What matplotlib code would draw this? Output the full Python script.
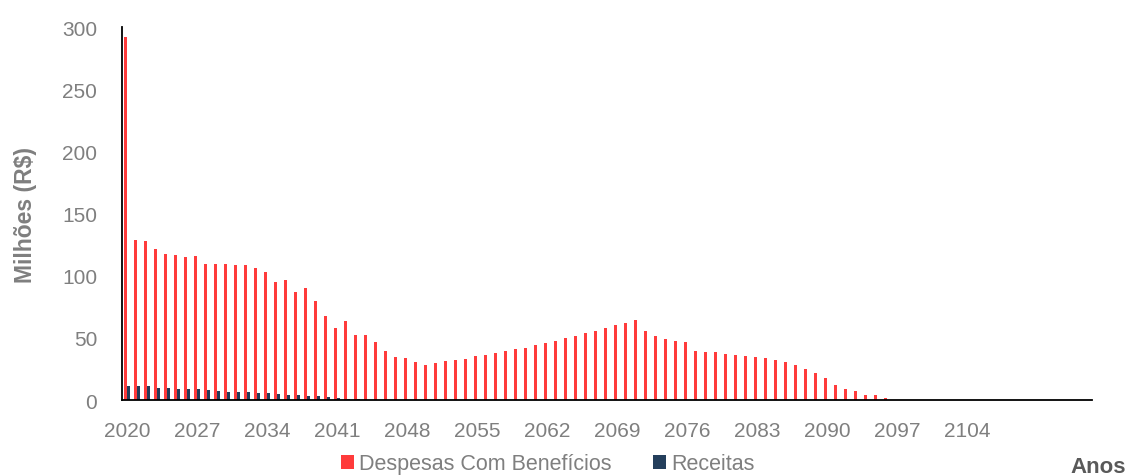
import matplotlib.pyplot as plt
import numpy as np

plt.rcParams['font.family'] = ['Liberation Sans', 'DejaVu Sans']

anos = np.arange(2020, 2117)

despesas = [292, 128.5, 127.7, 121.5, 117.7, 116.4, 115, 116, 109.7, 109.7,
            109.7, 108.3, 108.3, 105.9, 103, 94.9, 96.5, 87.1, 90, 79.6,
            68, 58, 63.5, 52.4, 52.4, 47, 39.8, 34.4, 33.6, 30.6,
            28.5, 29.6, 31.2, 32.5, 33.3, 35.2, 36.6, 37.6, 39.2, 40.9,
            42.2, 44.1, 45.7, 47.8, 49.7, 51.6, 53.8, 55.6, 58.1, 60.2,
            61.8, 64.2, 55.4, 51.9, 49.2, 47.3, 47, 39.8, 39, 38.4,
            37.4, 36.3, 35.2, 34.4, 33.6, 32.5, 30.6, 28.2, 25.3, 21.8,
            17.7, 12.1, 8.9, 7, 4.3, 3.8, 1.9]
despesas = despesas + [0] * (len(anos) - len(despesas))

receitas = [11.6, 11.6, 11, 9.7, 9.7, 9.1, 8.9, 8.6, 8, 7,
            6.7, 6.7, 6.2, 5.6, 5.4, 4.6, 4.3, 3.8, 3.5, 3,
            2.4, 1.9, 1.3, 1, 0.5, 0.3]
receitas = receitas + [0] * (len(anos) - len(receitas))

tick_anos = list(range(2020, 2105, 7))

cinza = '#7F7F7F'
x = np.arange(len(anos))

fig = plt.figure(figsize=(11.27, 4.77), dpi=100)
ax = fig.add_axes([0.1083, 0.159, 0.8607, 0.782])

ax.bar(x - 0.18, despesas, 0.3, color='#FF3B3B', label='Despesas Com Benefícios')
ax.bar(x + 0.13, receitas, 0.3, color='#243F5C', label='Receitas')

ax.set_xlim(-0.5, len(anos) - 0.5)
ax.set_ylim(0, 300)
ax.set_yticks(range(0, 301, 50))
ax.set_xticks([list(anos).index(a) for a in tick_anos])
ax.set_xticklabels([str(a) for a in tick_anos])
ax.tick_params(axis='both', length=0, labelsize=15, colors=cinza)
ax.tick_params(axis='y', pad=18)
ax.tick_params(axis='x', pad=15)

for s in ['top', 'right']:
    ax.spines[s].set_visible(False)
for s in ['left', 'bottom']:
    ax.spines[s].set_color('black')
    ax.spines[s].set_linewidth(1.3)

ax.set_ylabel('Milhões (R$)', fontsize=16.5, fontweight='bold', color=cinza, labelpad=18)

fig.text(0.999, 9 / 477, 'Anos', fontsize=16, fontweight='bold', color='#595959',
         ha='right', va='center')

leg = fig.legend(loc='center', bbox_to_anchor=(0.486, 12 / 477), ncol=2, frameon=False,
                 fontsize=15.5, handlelength=0.6, handleheight=0.6, handletextpad=0.25,
                 columnspacing=1.9)
for t in leg.get_texts():
    t.set_color(cinza)

fig.savefig('out.png', dpi=100)
